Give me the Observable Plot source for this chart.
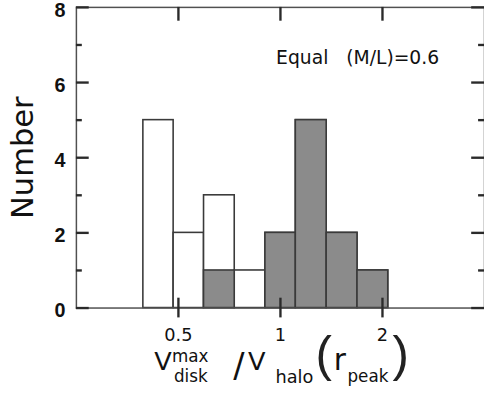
<!DOCTYPE html>
<html>
<head>
<meta charset="utf-8">
<script src="https://cdn.jsdelivr.net/npm/d3@7"></script>
<script src="https://cdn.jsdelivr.net/npm/@observablehq/plot@0.6"></script>
<style>
  html, body { margin: 0; padding: 0; background: #fff; }
  #chart { width: 484px; height: 393px; overflow: hidden; position: relative; }
</style>
</head>
<body>
<div id="chart"></div>
<script>
// Bin edges (ratio values, log-spaced)
const binEdges = [0.394, 0.484, 0.595, 0.733, 0.903, 1.110, 1.369, 1.688, 2.080];
// Counts: all galaxies (open) and subset (shaded)
const allCounts = [5, 2, 3, 1, 2, 5, 2, 1];
const shadedCounts = [0, 0, 1, 0, 2, 5, 2, 1];
// Axes
const xDomain = [0.25, 4];
const xTicks = [0.5, 1, 2];
const xTickLabels = ["0.5", "1", "2"];
const yDomain = [0, 8];
const yMajor = [0, 2, 4, 6, 8];
const yMinor = [1, 3, 5, 7];
const annotation = "Equal\u00a0\u00a0 (M/L)=0.6";
const yLabel = "Number";
// x-axis title pieces: V^max_disk / V_halo ( r_peak )
const titleText = ["V", "max", "disk", "/", "V", "halo", "r", "peak"];
const titleParens = ["(", ")"];

const bins = allCounts.map((c, i) => ({lo: binEdges[i], hi: binEdges[i + 1], all: c, shaded: shadedCounts[i]}));

const axisColor = "#505050";
const barStroke = "#3a3a3a";
const W = 491, H = 393, mL = 77, mR = 0, mT = 7, mB = 81;
const fw = W - mL - mR, fh = H - mT - mB;
const tk = {stroke: "#2a2a2a", strokeWidth: 2.4};

// layout of the title pieces (pixel offsets from the frame's bottom-left corner)
const titleLayout = [
  {dx: 79, dy: 55, s: 26},
  {dx: 97, dy: 49, s: 17},
  {dx: 99, dy: 70, s: 17},
  {dx: 159, dy: 59, s: 34},
  {dx: 174, dy: 55, s: 26},
  {dx: 202, dy: 70, s: 18},
  {dx: 261, dy: 53, s: 30},
  {dx: 275, dy: 70, s: 17}
];
const parenLayout = [{dx: 251}, {dx: 329}];

const titleMarks = titleText.map((t, i) => Plot.text([t], {
  text: d => d, frameAnchor: "bottom-left", textAnchor: "start", lineAnchor: "middle",
  dx: titleLayout[i].dx, dy: titleLayout[i].dy, fontSize: titleLayout[i].s, fill: "#111"
}));
const parenMarks = titleParens.map((t, i) => Plot.text([t], {
  text: d => d, frameAnchor: "bottom-left", textAnchor: "middle", lineAnchor: "middle",
  dx: parenLayout[i].dx, dy: 48, fontSize: 50, fontFamily: "Liberation Sans", fill: "#222"
}));

const plot = Plot.plot({
  width: W,
  height: H,
  marginLeft: mL,
  marginRight: mR,
  marginTop: mT,
  marginBottom: mB,
  style: {background: "white", fontFamily: "DejaVu Sans", overflow: "visible"},
  x: {type: "log", domain: xDomain, axis: null},
  y: {domain: yDomain, axis: null},
  marks: [
    Plot.rectY(bins, {x1: "lo", x2: "hi", y: "all", fill: "white", stroke: barStroke, strokeWidth: 1.6}),
    Plot.rectY(bins.filter(d => d.shaded > 0), {x1: "lo", x2: "hi", y: "shaded", fill: "#8b8b8b", stroke: barStroke, strokeWidth: 1.6}),
    Plot.frame({stroke: axisColor, strokeWidth: 1.5}),
    // left / right y ticks (inward)
    Plot.tickY(yMajor, {y: d => d, insetRight: fw - 13, ...tk}),
    Plot.tickY(yMinor, {y: d => d, insetRight: fw - 6, ...tk}),
    Plot.tickY(yMajor, {y: d => d, insetLeft: fw - 13, ...tk}),
    Plot.tickY(yMinor, {y: d => d, insetLeft: fw - 6, ...tk}),
    // top x ticks (inward) and bottom x ticks (straddling)
    Plot.tickX(xTicks, {x: d => d, insetBottom: fh - 14, ...tk}),
    Plot.tickX(xTicks, {x: d => d, insetTop: fh - 10, insetBottom: -10, ...tk}),
    // y tick labels
    Plot.text(yMajor, {y: d => d, text: d => String(d), frameAnchor: "left", dx: -11, dy: 3, textAnchor: "end", lineAnchor: "middle", fontWeight: "bold", fontSize: 20, fontFamily: "Liberation Sans", fill: "#111"}),
    // x tick labels
    Plot.text(xTicks, {x: d => d, text: (d, i) => xTickLabels[i], frameAnchor: "bottom", dy: 28, lineAnchor: "middle", fontSize: 18, fill: "#111"}),
    // annotation
    Plot.text([annotation], {text: d => d, frameAnchor: "top-right", dx: -46, dy: 51, textAnchor: "end", lineAnchor: "middle", fontSize: 19, fill: "#111"}),
    // y label
    Plot.text([yLabel], {text: d => d, frameAnchor: "left", dx: -54, rotate: -90, textAnchor: "middle", lineAnchor: "middle", fontSize: 31, fill: "#111"}),
    ...titleMarks,
    ...parenMarks
  ]
});

document.getElementById("chart").appendChild(plot);
</script>
</body>
</html>
